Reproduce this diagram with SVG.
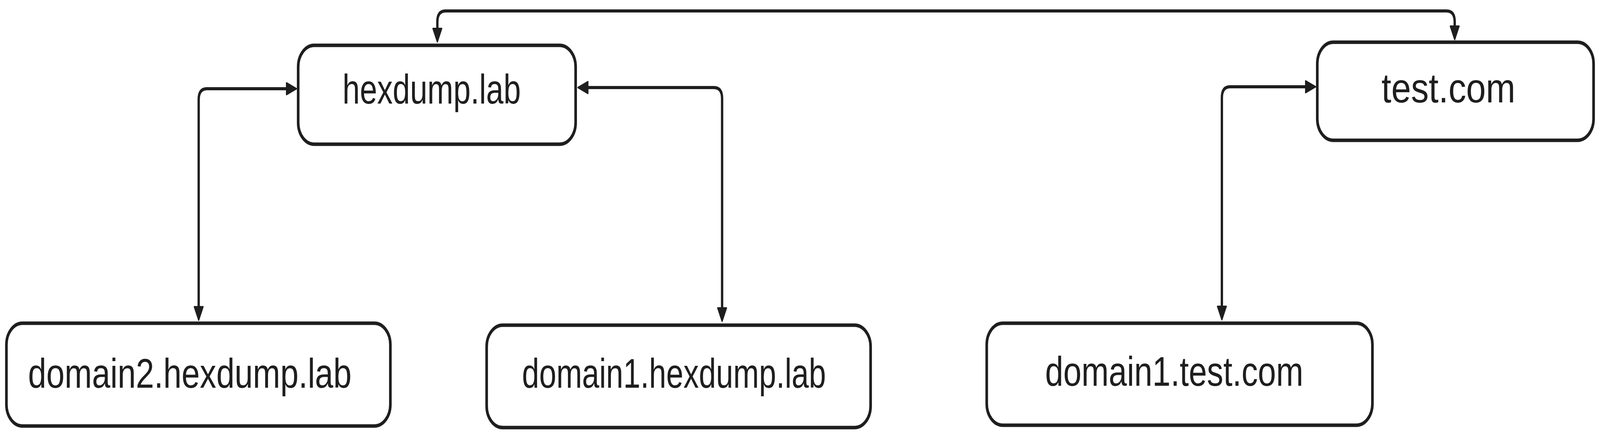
<svg xmlns="http://www.w3.org/2000/svg" width="5484" height="1113" viewBox="0 0 5484 1113" preserveAspectRatio="none">
  <style>
    svg { width: 100%; height: 100%; }
    .box { fill: #ffffff; stroke: #1e1e1e; stroke-width: 9; }
    .lbl { font-family: "Liberation Sans", Arial, sans-serif; font-size: 105px; fill: #1e1e1e; }
    .conn { fill: none; stroke: #1e1e1e; stroke-width: 8; stroke-linecap: round; stroke-linejoin: round; }
  </style>
  <defs>
    <marker id="arrow" markerUnits="userSpaceOnUse" markerWidth="44" markerHeight="40" refX="2" refY="18" orient="auto-start-reverse" overflow="visible">
      <path d="M2,3 L36,18 L2,33 Z" fill="#1e1e1e" stroke="#1e1e1e" stroke-width="4" stroke-linejoin="round"/>
    </marker>
  </defs>
  <rect x="0" y="0" width="5484" height="1113" fill="#ffffff"/>

  <g id="connectors">
    <path class="conn" d="M1499,73 L1499,56 Q1499,28 1527,28 L4958,28 Q4986,28 4986,56 L4986,67" marker-start="url(#arrow)" marker-end="url(#arrow)"/>
    <path class="conn" d="M982,227 L709,227 Q681,227 681,255 L681,785" marker-start="url(#arrow)" marker-end="url(#arrow)"/>
    <path class="conn" d="M2015,224 L2447,224 Q2475,224 2475,252 L2475,788" marker-start="url(#arrow)" marker-end="url(#arrow)"/>
    <path class="conn" d="M4475,222 L4216,222 Q4188,222 4188,250 L4188,784" marker-start="url(#arrow)" marker-end="url(#arrow)"/>
  </g>

  <g id="node-hexdump-lab">
    <rect class="box" x="1022" y="116" width="951" height="253" rx="55" ry="55"/>
    <text class="lbl" x="1174" y="265" textLength="611" lengthAdjust="spacingAndGlyphs">hexdump.lab</text>
  </g>

  <g id="node-test-com">
    <rect class="box" x="4515" y="108" width="947" height="251" rx="55" ry="55"/>
    <text class="lbl" x="4735" y="262" textLength="459" lengthAdjust="spacingAndGlyphs">test.com</text>
  </g>

  <g id="node-domain2-hexdump-lab">
    <rect class="box" x="22" y="827" width="1316" height="263" rx="55" ry="55"/>
    <text class="lbl" x="96" y="992" textLength="1109" lengthAdjust="spacingAndGlyphs">domain2.hexdump.lab</text>
  </g>

  <g id="node-domain1-hexdump-lab">
    <rect class="box" x="1668" y="832" width="1316" height="262" rx="55" ry="55"/>
    <text class="lbl" x="1789" y="992" textLength="1042" lengthAdjust="spacingAndGlyphs">domain1.hexdump.lab</text>
  </g>

  <g id="node-domain1-test-com">
    <rect class="box" x="3382" y="827" width="1322" height="261" rx="55" ry="55"/>
    <text class="lbl" x="3582" y="987" textLength="885" lengthAdjust="spacingAndGlyphs">domain1.test.com</text>
  </g>
</svg>
